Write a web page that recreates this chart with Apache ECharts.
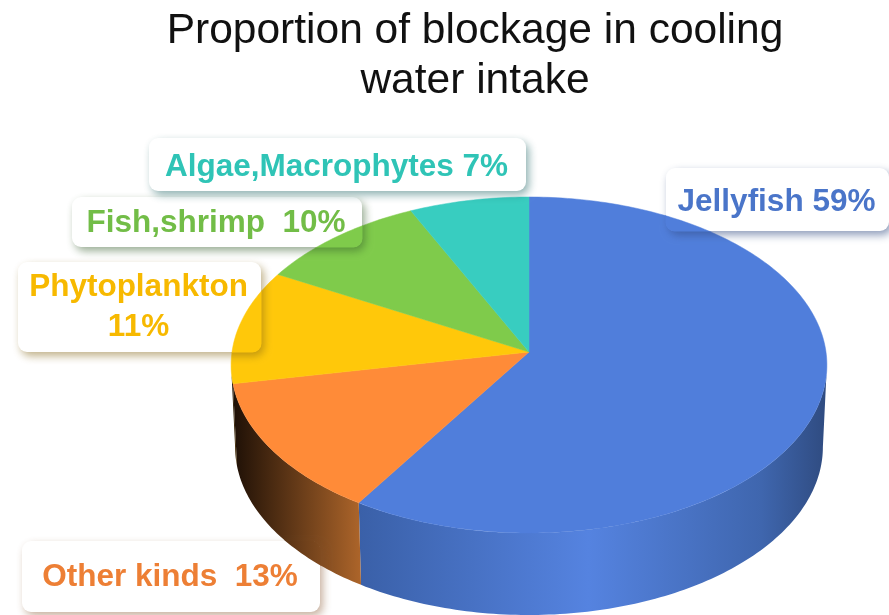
<!DOCTYPE html>
<html lang="en">
<head>
<meta charset="utf-8">
<style>html,body{margin:0;padding:0;background:#fff}#chart{width:889px;height:615px}</style>
</head>
<body>
<div id="chart"></div>
<script src="https://cdn.jsdelivr.net/npm/echarts@6/dist/echarts.min.js"></script>
<script>
var titleText = 'Proportion of blockage in cooling\nwater intake';
var categories = ['Jellyfish', 'Other kinds', 'Phytoplankton', 'Fish,shrimp', 'Algae,Macrophytes'];
var values = [59, 13, 11, 10, 7];
var labelTexts = ['Jellyfish 59%', 'Other kinds  13%', 'Phytoplankton\n11%', 'Fish,shrimp  10%', 'Algae,Macrophytes 7%'];

var sliceColors = ['#507edb', '#ff8b38', '#ffc80a', '#7fcb4b', '#38cdc0'];
var textColors = ['#4a75c9', '#ed7f35', '#f7b900', '#72bd47', '#2fc4b6'];
var shadowColors = ['rgba(50,75,130,.55)', 'rgba(130,80,40,.45)', 'rgba(130,100,20,.5)', 'rgba(50,90,40,.5)', 'rgba(30,100,100,.5)'];
var wallStops = [
    [[0, '#3a60a8'], [0.49, '#5583e0'], [0.86, '#3f66ae'], [1, '#2f4b80']],
    [[0, '#1e1006'], [1, '#ad652a']],
    [[0, '#1e1006'], [1, '#4a3004']]
];
// label box: left, top, width, height
var labelBoxes = [[666, 168, 223, 63], [22, 541, 298, 71], [18, 262, 243, 90], [72, 197, 290, 50], [149, 138, 377, 53]];
var labelTextDy = [3, 1, 0, 1, 3];

// top face is a circle seen in perspective, k is the foreshortening
var cx = 529, cy = 352, ax = 297, ay = 167, k = 0.0774;
var depth = 82, ax2 = 293;
var total = values.reduce(function (a, b) { return a + b; }, 0);
var starts = [];
values.reduce(function (sum, v, i) { starts[i] = sum; return sum + v; }, 0);

function project(deg, bottom) {
    var t = deg * Math.PI / 180;
    var u = Math.sin(t), v = Math.cos(t), d = 1 + k * v;
    return [cx + (bottom ? ax2 : ax) * u / d, cy + (bottom ? depth : 0) - ay * v / d];
}

function arc(a, b, bottom) {
    var pts = [], n = Math.max(2, Math.ceil(Math.abs(b - a)));
    for (var i = 0; i <= n; i++) pts.push(project(a + (b - a) * i / n, bottom));
    return pts;
}

function sliceElements(i) {
    var a = starts[i] / total * 360, b = (starts[i] + values[i]) / total * 360;
    var list = [];
    // only the front of the rim is visible
    var w0 = Math.max(a, 94.4), w1 = Math.min(b, 265.6);
    if (w1 > w0) {
        var rim = arc(w0, w1, false).concat(arc(w1, w0, true));
        var xs = rim.map(function (p) { return p[0]; });
        var x0 = Math.min.apply(null, xs), x1 = Math.max.apply(null, xs);
        var stops = wallStops[i].map(function (s) { return { offset: s[0], color: s[1] }; });
        var grad = new echarts.graphic.LinearGradient(x0, 0, x1, 0, stops, true);
        list.push({ type: 'polygon', shape: { points: rim }, style: { fill: grad } });
    }
    list.push({
        type: 'polygon',
        shape: { points: [[cx, cy]].concat(arc(a, b, false)) },
        style: { fill: sliceColors[i], stroke: sliceColors[i], lineWidth: 0.5 }
    });
    return list;
}

function allSlices() {
    var list = [];
    values.forEach(function (v, i) { list = list.concat(sliceElements(i)); });
    return list;
}

var option = {
    backgroundColor: '#fff',
    animation: false,
    title: {
        text: titleText,
        left: 470,
        top: 1,
        textAlign: 'center',
        textStyle: { fontFamily: 'Liberation Sans', fontSize: 42.5, fontWeight: 'normal', color: '#111', lineHeight: 50 }
    },
    series: [
        {
            type: 'custom',
            coordinateSystem: 'none',
            silent: true,
            z: 1,
            data: values,
            renderItem: function (params) {
                return { type: 'group', children: sliceElements(params.dataIndex) };
            }
        },
        {
            type: 'custom',
            coordinateSystem: 'none',
            silent: true,
            z: 2,
            data: labelTexts,
            renderItem: function (params) {
                var i = params.dataIndex, b = labelBoxes[i];
                var shape = { x: b[0], y: b[1], width: b[2], height: b[3], r: 9 };
                var clipShape = { x: b[0] - 0.5, y: b[1] - 0.5, width: b[2] + 1, height: b[3] + 1, r: 9 };
                return {
                    type: 'group',
                    children: [
                        {
                            type: 'rect',
                            shape: shape,
                            style: { fill: '#fff', shadowBlur: 9, shadowOffsetX: 3, shadowOffsetY: 4, shadowColor: shadowColors[i] }
                        },
                        // the pie stays visible inside the box, only its shadow falls on it
                        { type: 'group', clipPath: { type: 'rect', shape: clipShape }, children: allSlices() },
                        {
                            type: 'text',
                            style: {
                                x: b[0] + b[2] / 2 - 1,
                                y: b[1] + b[3] / 2 + labelTextDy[i],
                                text: labelTexts[i],
                                align: 'center',
                                verticalAlign: 'middle',
                                fill: textColors[i],
                                font: 'bold 31.5px "Liberation Sans"',
                                lineHeight: 40
                            }
                        }
                    ]
                };
            }
        }
    ]
};

var chart = echarts.init(document.getElementById('chart'));
chart.setOption(option);
</script>
</body>
</html>
